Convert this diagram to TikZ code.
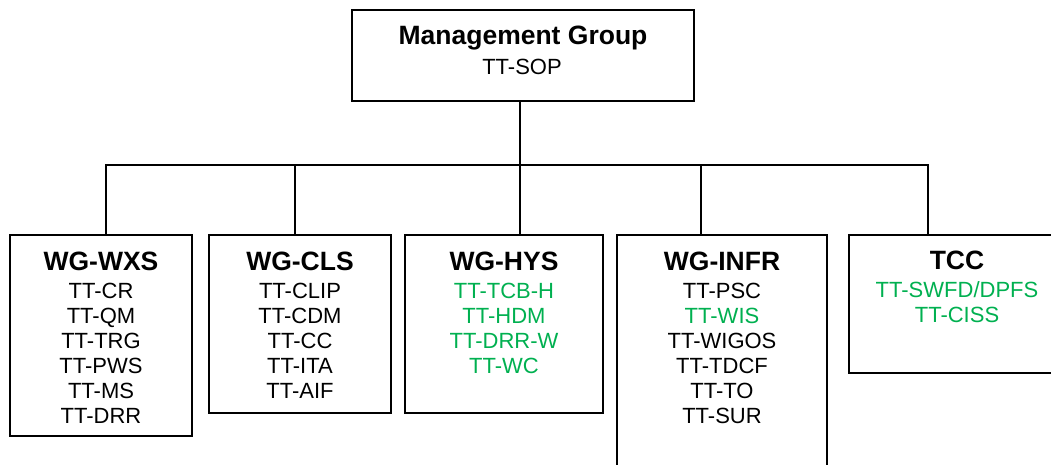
\documentclass[tikz,border=0pt]{standalone}
\usepackage{fontspec}
\setmainfont{Liberation Sans}
\definecolor{wmogreen}{RGB}{0,176,80}
\begin{document}
\begin{tikzpicture}[x=1pt,y=-1pt,
  box/.style={draw=black, line width=1.6pt, inner sep=0pt, outer sep=0pt},
  conn/.style={draw=black, line width=1.6pt},
  ttl/.style={anchor=base, inner sep=0pt, font=\fontsize{26.5}{30}\selectfont\bfseries},
  lst/.style={anchor=base, inner sep=0pt, font=\fontsize{22}{25}\selectfont}]
\useasboundingbox (0,0) rectangle (1051,465);
\clip (0,0) rectangle (1051,465);
% boxes
\node[box, minimum width=342pt, minimum height=91pt] (mg) at (523,55.5) {};
\node[box, minimum width=182pt, minimum height=201pt] (wxs) at (101,335.5) {};
\node[box, minimum width=182pt, minimum height=178pt] (cls) at (300,324) {};
\node[box, minimum width=198pt, minimum height=178pt] (hys) at (504,324) {};
\node[box, minimum width=210pt, minimum height=265pt] (infr) at (722,367.5) {};
\node[box, minimum width=216pt, minimum height=138pt] (tcc) at (957,304) {};
% texts
\node[ttl] (mgT) at (523,45) {Management Group};
\node[lst] (mgL) at (522,75) {TT-SOP};
\node[ttl] (wxsT) at (101,270) {WG-WXS};
\node[lst] (wxsL) at (101,298) {\begin{tabular}[t]{@{}c@{}}TT-CR\\TT-QM\\TT-TRG\\TT-PWS\\TT-MS\\TT-DRR\end{tabular}};
\node[ttl] (clsT) at (300,270) {WG-CLS};
\node[lst] (clsL) at (300,298) {\begin{tabular}[t]{@{}c@{}}TT-CLIP\\TT-CDM\\TT-CC\\TT-ITA\\TT-AIF\end{tabular}};
\node[ttl] (hysT) at (504,270) {WG-HYS};
\node[lst, text=wmogreen] (hysL) at (504,298) {\begin{tabular}[t]{@{}c@{}}TT-TCB-H\\TT-HDM\\TT-DRR-W\\TT-WC\end{tabular}};
\node[ttl] (infrT) at (722,270) {WG-INFR};
\node[lst] (infrL) at (722,298) {\begin{tabular}[t]{@{}c@{}}TT-PSC\\\textcolor{wmogreen}{TT-WIS}\\TT-WIGOS\\TT-TDCF\\TT-TO\\TT-SUR\end{tabular}};
\node[ttl] (tccT) at (957,269) {TCC};
\node[lst, text=wmogreen] (tccL) at (957,297) {\begin{tabular}[t]{@{}c@{}}TT-SWFD/DPFS\\TT-CISS\end{tabular}};
% connectors
\coordinate (bl) at (106,165);
\coordinate (br) at (928,165);
\coordinate (bm) at (520,165);
\coordinate (b2) at (295,165);
\coordinate (b4) at (701,165);
\draw[conn] (bl |- wxs.north) -- (bl) -- (br) -- (br |- tcc.north);
\draw[conn] (mg.south -| bm) -- (bm |- hys.north);
\draw[conn] (b2) -- (b2 |- cls.north);
\draw[conn] (b4) -- (b4 |- infr.north);
\end{tikzpicture}
\end{document}
